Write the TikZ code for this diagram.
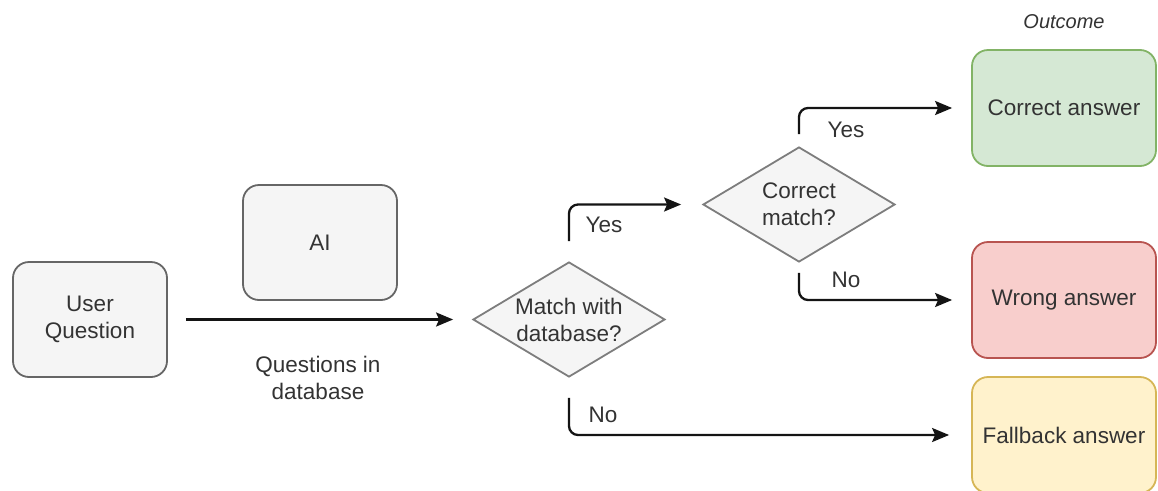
\documentclass[tikz,border=0pt]{standalone}
\usepackage{fontspec}
\setmainfont{Liberation Sans}
\usetikzlibrary{shapes.geometric,arrows.meta}
\definecolor{txt}{HTML}{333333}
\definecolor{grayfill}{HTML}{F5F5F5}
\definecolor{graystroke}{HTML}{666666}
\definecolor{greenfill}{HTML}{D5E8D4}
\definecolor{greenstroke}{HTML}{82B366}
\definecolor{redfill}{HTML}{F8CECC}
\definecolor{redstroke}{HTML}{B85450}
\definecolor{yellowfill}{HTML}{FFF2CC}
\definecolor{yellowstroke}{HTML}{D6B656}
\tikzset{
  base/.style={font=\fontsize{22.5}{27}\selectfont, text=txt, align=center},
  box/.style={base, draw=graystroke, fill=grayfill, line width=1.8pt, rounded corners=16pt,
    minimum width=154pt, minimum height=115pt, inner sep=0pt},
  outbox/.style={box, minimum width=184pt, minimum height=116pt},
  decision/.style={draw=graystroke!85, fill=grayfill, line width=1.8pt, shape=diamond,
    minimum width=192pt, minimum height=115pt, inner sep=0pt},
  lbl/.style={base},
  flow/.style={line width=2.3pt, draw=black!92, rounded corners=9pt,
    -{Stealth[length=17pt,width=14pt,inset=3pt]}}
}
\begin{document}
\begin{tikzpicture}[x=1pt,y=-1pt]
\useasboundingbox (0,0) rectangle (1158,490);

% left part
\node[box] (uq) at (90,319.5) {User\\Question};
\node[box] (ai) at (320,242.5) {AI};

% decisions
\node[decision] (match) at (569,319.5) {};
\node[lbl] (matchtxt) at (match.center) {Match with\\database?};
\node[decision] (cm) at (799,204.5) {};
\node[lbl] (cmtxt) at (cm.center) {Correct\\match?};

% outcomes
\node[lbl, font=\fontsize{20}{24}\selectfont\itshape] (outcome) at (1064,22) {Outcome};
\node[outbox, draw=greenstroke, fill=greenfill] (ca) at (1064,108) {Correct answer};
\node[outbox, draw=redstroke, fill=redfill] (wa) at (1064,300) {Wrong answer};
\node[outbox, draw=yellowstroke, fill=yellowfill] (fb) at (1064,435) {Fallback answer};

% connectors
\draw[flow] ([xshift=18pt]uq.east) -- ([xshift=-19pt]match.west);
\node[lbl] (qdb) at (318,378) {Questions in\\database};

\draw[flow] ([yshift=20pt]match.north) |- ([xshift=-21pt]cm.west);
\node[lbl] (yes1) at (604,225) {Yes};
\draw[flow] ([yshift=-20pt]match.south) |- ([xshift=-22pt]fb.west);
\node[lbl] (no1) at (603,415) {No};

\draw[flow] ([yshift=12pt]cm.north) |- ([xshift=-19pt]ca.west);
\node[lbl] (yes2) at (846,130) {Yes};
\draw[flow] ([yshift=-10pt]cm.south) |- ([xshift=-19pt]wa.west);
\node[lbl] (no2) at (846,280) {No};
\end{tikzpicture}
\end{document}
